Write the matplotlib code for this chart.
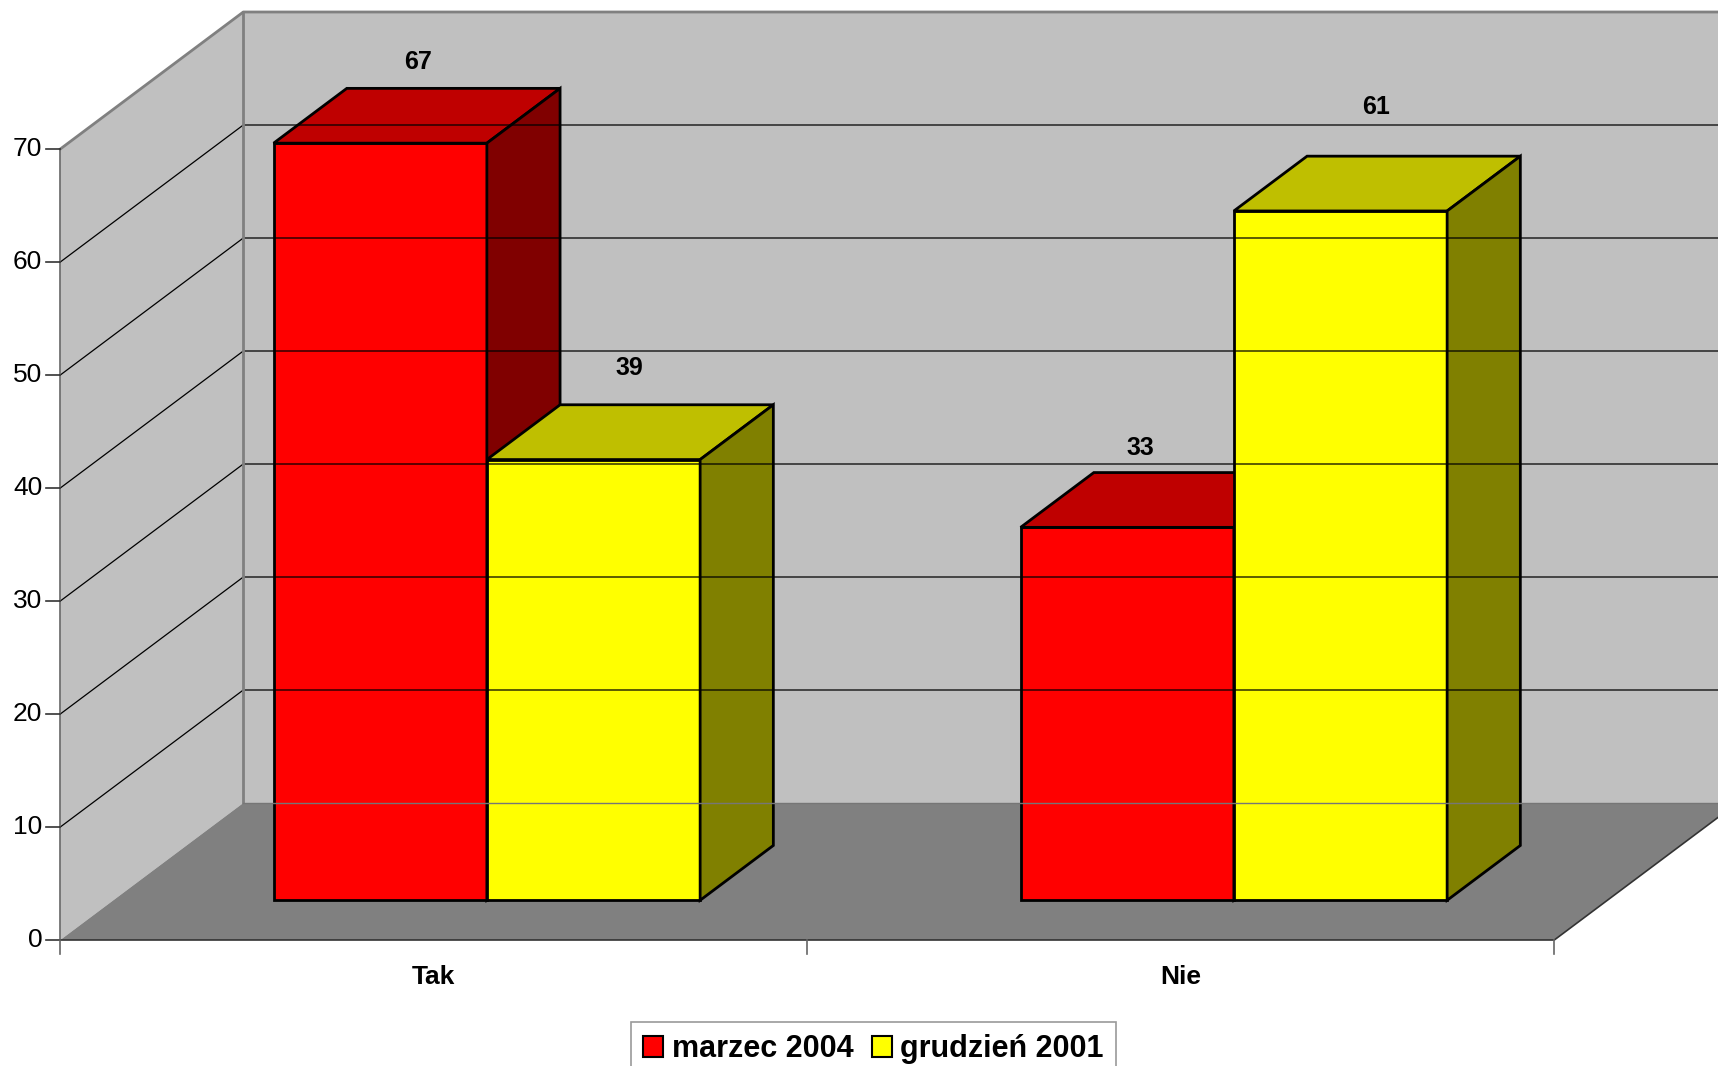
import matplotlib
matplotlib.use("Agg")
import matplotlib.pyplot as plt
from matplotlib.patches import Polygon, Patch

plt.rcParams['font.family'] = ['Liberation Sans', 'DejaVu Sans']

# data
categories = ['Tak', 'Nie']
series_names = ['marzec 2004', 'grudzień 2001']
marzec_2004 = [67, 33]
grudzien_2001 = [39, 61]
values = [marzec_2004, grudzien_2001]
y_ticks = [0, 10, 20, 30, 40, 50, 60, 70]

# colours: front, top, side
front_cols = ['#FF0000', '#FFFF00']
top_cols = ['#BF0000', '#BFBF00']
side_cols = ['#800000', '#808000']

# label nudges (data units, relative to bar front centre / value)
label_dx = [[0.050, 0.017], [0.048, 0.048]]
label_dy = [[10.7, 10.5], [11.6, 12.7]]

# geometry (pixels of the 1718x1066 output)
W, H = 1718, 1066
PX = 747.0      # pixels per category
UNIT = 11.3     # pixels per value unit
X0, Y0 = 60.3, 940.0
DX = 183 / PX   # full depth in category units
DY = 137 / UNIT  # full depth in value units
Z0, Z1 = 0.29, 0.69
BW = 0.2855
YMAX = 70

fig = plt.figure(figsize=(W / 100, H / 100), dpi=100)
ax = fig.add_axes([0, 0, 1, 1])
ax.set_xlim(-X0 / PX, (W - X0) / PX)
ax.set_ylim(-(H - Y0) / UNIT, Y0 / UNIT)
ax.axis('off')

n = len(categories)

# walls and floor
left_wall = [(0, 0), (0, YMAX), (DX, YMAX + DY), (DX, DY)]
back_wall = [(DX, DY), (DX, YMAX + DY), (n + DX, YMAX + DY), (n + DX, DY)]
floor = [(0, 0), (n, 0), (n + DX, DY), (DX, DY)]
ax.add_patch(Polygon(left_wall, closed=True, facecolor='#C0C0C0', edgecolor='none'))
ax.add_patch(Polygon(back_wall, closed=True, facecolor='#C0C0C0', edgecolor='none'))
ax.add_patch(Polygon(floor, closed=True, facecolor='#808080', edgecolor='none'))

# gridlines
for v in y_ticks[1:-1]:
    ax.plot([0, DX, n + DX], [v, v + DY, v + DY], color='black', lw=0.9)

# wall edges
ax.plot([0, DX, n + DX], [YMAX, YMAX + DY, YMAX + DY], color='#808080', lw=2)
ax.plot([DX, DX], [DY, YMAX + DY], color='#808080', lw=2)
ax.plot([DX, n + DX], [DY, DY], color='#767676', lw=1)
ax.plot([0, 0], [0, YMAX], color='#666666', lw=1.2)
ax.plot([0, n, n + DX], [0, 0, DY], color='#333333', lw=1.2)

# y ticks
tick_x = 14 / PX
for v in y_ticks:
    ax.plot([-tick_x, 0], [v, v], color='#333333', lw=1.2)
    ax.text(-18 / PX, v, str(v), ha='right', va='center', fontsize=19)

# x ticks and category labels
for i in range(n + 1):
    ax.plot([i, i], [0, -14 / UNIT], color='#666666', lw=1.2)
for i, c in enumerate(categories):
    ax.text(i + 0.5, -3.3, c, ha='center', va='center', fontsize=19, fontweight='bold')

# bars
ox, oy = Z0 * DX, Z0 * DY
ddx, ddy = (Z1 - Z0) * DX, (Z1 - Z0) * DY
for i in range(n):
    for s in range(len(values)):
        v = values[s][i]
        x1 = i + 0.5 - BW + s * BW + ox
        x2 = x1 + BW
        yb, yt = oy, v + oy
        kw = dict(closed=True, edgecolor='black', lw=2.0, joinstyle='miter')
        ax.add_patch(Polygon([(x1, yb), (x2, yb), (x2, yt), (x1, yt)],
                             facecolor=front_cols[s], **kw))
        ax.add_patch(Polygon([(x1, yt), (x2, yt), (x2 + ddx, yt + ddy), (x1 + ddx, yt + ddy)],
                             facecolor=top_cols[s], **kw))
        ax.add_patch(Polygon([(x2, yb), (x2 + ddx, yb + ddy), (x2 + ddx, yt + ddy), (x2, yt)],
                             facecolor=side_cols[s], **kw))
        ax.text((x1 + x2) / 2 + label_dx[s][i], v + label_dy[s][i], str(v),
                ha='center', va='center', fontsize=18, fontweight='bold')

handles = [Patch(facecolor=c, edgecolor='black', lw=1.5) for c in front_cols]
leg = fig.legend(handles, series_names, loc='upper center', bbox_to_anchor=(0.5085, 0.0413),
                 ncol=2, frameon=True, fancybox=False, edgecolor='#808080',
                 prop={'weight': 'bold', 'size': 22}, handlelength=0.65, handleheight=0.65,
                 handletextpad=0.28, columnspacing=0.6, borderpad=0.4, borderaxespad=0)
leg.get_frame().set_linewidth(1.2)

fig.savefig('out.png', dpi=100, facecolor='white')
